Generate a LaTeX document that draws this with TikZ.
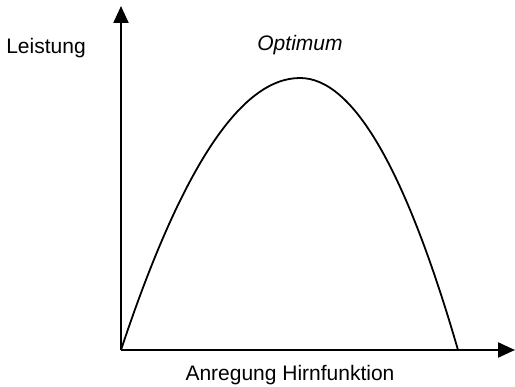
\documentclass[tikz,border=0pt]{standalone}
\usepackage{fontspec}
\setmainfont{Liberation Sans}
\usetikzlibrary{arrows.meta}
\begin{document}
\begin{tikzpicture}[x=1pt,y=-1pt,
  axis/.style={line width=2.2pt,-{Triangle[length=17pt,width=15pt]}},
  curve/.style={line width=1.8pt},
  lbl/.style={font=\fontsize{21}{25}\selectfont, inner sep=0pt}]
\useasboundingbox (0,0) rectangle (515,387);
\coordinate (O) at (121,350);
\coordinate (Y) at (121,6);
\coordinate (X) at (515,350);
\coordinate (P) at (300,78);
\coordinate (E) at (458,350);
\draw[axis] (O) -- (Y);
\draw[axis] (O) -- (X);
\draw[curve] (O) .. controls (181.3,168.3) and (240.7,78) .. (P)
  .. controls (352.7,78) and (405.3,168.3) .. (E);
\node[lbl] (leistung) at (46,48) {Leistung};
\node[lbl,font=\fontsize{21}{25}\selectfont\itshape] (optimum) at (300,45) {Optimum};
\node[lbl] (anregung) at (290,375) {Anregung Hirnfunktion};
\end{tikzpicture}
\end{document}
